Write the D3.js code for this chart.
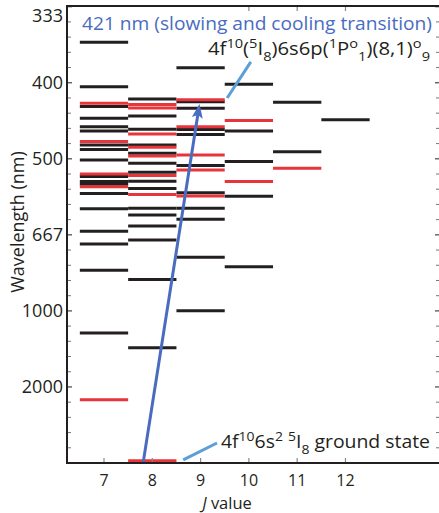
<!DOCTYPE html>
<html>
<head>
<meta charset="utf-8">
<script src="https://cdn.jsdelivr.net/npm/d3@7"></script>
<style>
  html, body { margin: 0; padding: 0; background: #fff; }
  svg { display: block; font-family: "Open Sans", "DejaVu Sans", sans-serif; }
</style>
</head>
<body>
<svg id="chart" width="439" height="513"></svg>
<script>
// ---- data (energies in cm^-1) ----
const jValues = [7, 8, 9, 10, 11, 12];
const oddJ7  = [27660, 24740, 23440, 22660, 22110, 21830, 20910, 20610, 19920, 18840, 18510, 18320, 17720, 16720, 15230, 14400, 12670, 8550];
const evenJ7 = [23650, 21140, 19000, 18160, 4160];
const oddJ8  = [23930, 22810, 21940, 20910, 20360, 19700, 19110, 18520, 18050, 16750, 16300, 15580, 14660, 12060, 7580];
const evenJ8 = [23570, 23340, 21630, 20760, 20180, 18900, 17660, 150];
const oddJ9  = [25990, 23750, 23320, 21930, 21600, 19560, 17770, 16750, 16020, 13520, 10010];
const evenJ9 = [23880, 22110, 20250, 19260, 17550];
const oddJ10  = [24900, 21830, 19820, 17530, 12910];
const evenJ10 = [22520, 18500];
const oddJ11  = [23720, 20470];
const evenJ11 = [19380];
const oddJ12  = [22570];
const evenJ12 = [];

const yTickEnergies = [5000, 10000, 15000, 20000, 25000, 30000];
const yTickLabels = ["2000", "1000", "667", "500", "400", "333"];
const xTickLabels = ["7", "8", "9", "10", "11", "12"];

const transition = { j0: 7.81, e0: 0, j1: 8.977, e1: 23600 };
const titleText = "421 nm (slowing and cooling transition)";

// build table
const oddSets = [oddJ7, oddJ8, oddJ9, oddJ10, oddJ11, oddJ12];
const evenSets = [evenJ7, evenJ8, evenJ9, evenJ10, evenJ11, evenJ12];
const levels = [];
jValues.forEach((j, i) => {
  oddSets[i].forEach(e => levels.push({ j, e, parity: "odd" }));
});
jValues.forEach((j, i) => {
  evenSets[i].forEach(e => levels.push({ j, e, parity: "even" }));
});

// ---- layout ----
const svg = d3.select("#chart");
const pL = 67, pR = 440, pT = 6, pB = 463;
const x = d3.scaleLinear().domain([6.234, 13.957]).range([pL, pR]);
const y = d3.scaleLinear().domain([0, 30000]).range([pB, 6.7]);

const black = "#231f20", red = "#e8353b", blue = "#4a6cc0", light = "#5b9fd8";

// levels
svg.append("g").selectAll("line").data(levels).join("line")
  .attr("x1", d => x(d.j - 0.5)).attr("x2", d => x(d.j + 0.5))
  .attr("y1", d => y(d.e)).attr("y2", d => y(d.e))
  .attr("stroke", d => d.parity === "odd" ? black : red)
  .attr("stroke-width", 3);

// transition arrow
(function () {
  const x0 = x(transition.j0), y0 = y(transition.e0);
  const x1 = x(transition.j1), y1 = y(transition.e1);
  const dx = x1 - x0, dy = y1 - y0, L = Math.hypot(dx, dy);
  const ux = dx / L, uy = dy / L, px = -uy, py = ux;
  const headL = 14, headW = 5.5, notch = 3;
  const bx = x1 - ux * headL, by = y1 - uy * headL;
  svg.append("line")
    .attr("x1", x0).attr("y1", y0)
    .attr("x2", bx + ux * notch).attr("y2", by + uy * notch)
    .attr("stroke", blue).attr("stroke-width", 3);
  svg.append("path")
    .attr("d", `M${x1},${y1} L${bx + px * headW},${by + py * headW} L${bx + ux * notch},${by + uy * notch} L${bx - px * headW},${by - py * headW} Z`)
    .attr("fill", blue);
})();

// leader lines
const leaders = [
  { j0: 9.55, e0: 24000, j1: 10.04, e1: 26370 },
  { j0: 8.64, e0: 200, j1: 9.34, e1: 1315 }
];
svg.append("g").selectAll("line").data(leaders).join("line")
  .attr("x1", d => x(d.j0)).attr("y1", d => y(d.e0))
  .attr("x2", d => x(d.j1)).attr("y2", d => y(d.e1))
  .attr("stroke", light).attr("stroke-width", 3);

// axes
const axG = svg.append("g");
const yMinor = d3.range(1000, 30000, 1000).filter(v => v % 5000 !== 0);
axG.selectAll(".ymin").data(yMinor).join("line")
  .attr("x1", pL).attr("x2", pL + 4)
  .attr("y1", d => y(d)).attr("y2", d => y(d))
  .attr("stroke", "#777").attr("stroke-width", 1);
axG.selectAll(".ymaj").data(yTickEnergies).join("line")
  .attr("x1", pL).attr("x2", pL + 5)
  .attr("y1", d => y(d)).attr("y2", d => y(d))
  .attr("stroke", "#444").attr("stroke-width", 1.2);
axG.selectAll(".ymin2").data(yMinor).join("line")
  .attr("x1", pR - 4).attr("x2", pR)
  .attr("y1", d => y(d)).attr("y2", d => y(d))
  .attr("stroke", "#777").attr("stroke-width", 1);
axG.selectAll(".ymaj2").data(yTickEnergies).join("line")
  .attr("x1", pR - 5).attr("x2", pR)
  .attr("y1", d => y(d)).attr("y2", d => y(d))
  .attr("stroke", "#444").attr("stroke-width", 1.2);
axG.selectAll(".xt").data(jValues).join("line")
  .attr("x1", d => x(d)).attr("x2", d => x(d))
  .attr("y1", pB).attr("y2", pB - 5)
  .attr("stroke", "#888").attr("stroke-width", 1.2);
axG.selectAll(".xt2").data(jValues.filter(j => j >= 10)).join("line")
  .attr("x1", d => x(d)).attr("x2", d => x(d))
  .attr("y1", pT).attr("y2", pT + 5)
  .attr("stroke", "#888").attr("stroke-width", 1.2);
axG.append("line").attr("x1", pL).attr("x2", pL).attr("y1", pT).attr("y2", pB + 1)
  .attr("stroke", black).attr("stroke-width", 2);
axG.append("line").attr("x1", pL - 1).attr("x2", pR).attr("y1", pB).attr("y2", pB)
  .attr("stroke", black).attr("stroke-width", 2);
axG.append("line").attr("x1", pL - 1).attr("x2", pR).attr("y1", pT).attr("y2", pT)
  .attr("stroke", black).attr("stroke-width", 2);

// tick labels
svg.append("g").selectAll("text").data(yTickEnergies).join("text")
  .attr("x", pL - 4)
  .attr("y", d => y(d))
  .attr("dy", (d, i) => i === yTickEnergies.length - 1 ? "0.85em" : "0.36em")
  .attr("text-anchor", "end")
  .attr("font-size", 18).attr("fill", black)
  .text((d, i) => yTickLabels[i]);
svg.append("g").selectAll("text").data(jValues).join("text")
  .attr("x", d => x(d)).attr("y", 486)
  .attr("text-anchor", "middle").attr("font-size", 16).attr("fill", black)
  .text((d, i) => xTickLabels[i]);

// axis titles
svg.append("text")
  .attr("transform", "translate(24,222) rotate(-90)")
  .attr("text-anchor", "middle").attr("font-size", 18).attr("fill", black)
  .text("Wavelength (nm)");
const xl = svg.append("text").attr("x", 227).attr("y", 509)
  .attr("text-anchor", "middle").attr("font-size", 16.5).attr("fill", black);
xl.append("tspan").attr("font-style", "italic").text("J");
xl.append("tspan").text(" value");

// title
svg.append("text").attr("x", 82).attr("y", 30)
  .attr("font-size", 18).attr("fill", blue)
  .attr("textLength", 350).attr("lengthAdjust", "spacingAndGlyphs")
  .text(titleText);

// rich annotation helper
function rich(xp, yp, segs, size, width) {
  const t = svg.append("text").attr("x", xp).attr("y", yp).attr("font-size", size).attr("fill", black);
  let shift = 0;
  segs.forEach(([s, k]) => {
    const target = k === "sup" ? -7 : k === "sub" ? 6 : 0;
    t.append("tspan")
      .attr("dy", target - shift)
      .attr("font-size", k ? size * 0.72 : size)
      .text(s);
    shift = target;
  });
  const w = t.node().getComputedTextLength();
  if (width && w > 0) t.attr("textLength", width).attr("lengthAdjust", "spacingAndGlyphs");
  return t;
}
rich(208, 55, [["4f"], ["10", "sup"], ["("], ["5", "sup"], ["I"], ["8", "sub"], [")6s6p("], ["1", "sup"], ["P"], ["o", "sup"], ["1", "sub"], [")(8,1)"], ["o", "sup"], ["9", "sub"]], 18.5, 222);
rich(221, 448, [["4f"], ["10", "sup"], ["6s"], ["2", "sup"], [" "], ["5", "sup"], ["I"], ["8", "sub"], [" ground state"]], 18.5, 209);
</script>
</body>
</html>
